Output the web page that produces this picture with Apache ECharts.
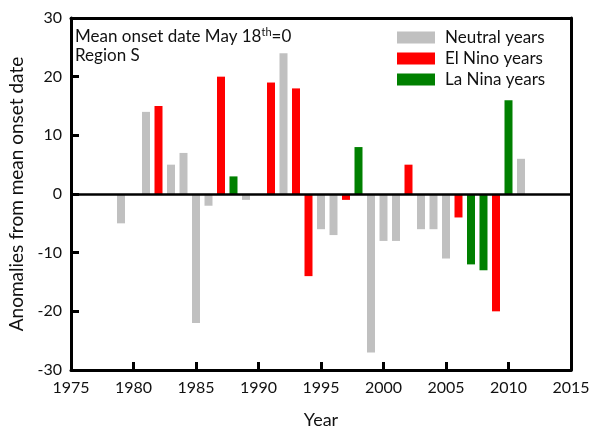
<!DOCTYPE html>
<html>
<head>
<meta charset="utf-8">
<script src="https://cdn.jsdelivr.net/npm/echarts@6/dist/echarts.min.js"></script>
<style>
  html, body { margin: 0; padding: 0; background: #fff; }
  #chart { width: 589px; height: 427px; }
</style>
</head>
<body>
<div id="chart"></div>
<script>
// Onset-date anomalies (days relative to the May 18 mean), grouped by ENSO phase
const neutralYears  = [1979, 1981, 1983, 1984, 1985, 1986, 1989, 1992, 1995, 1996, 1999, 2000, 2001, 2003, 2004, 2005, 2011];
const neutralValues = [  -5,   14,    5,    7,  -22,   -2,   -1,   24,   -6,   -7,  -27,   -8,   -8,   -6,   -6,  -11,    6];

const elNinoYears  = [1982, 1987, 1991, 1993, 1994, 1997, 2002, 2006, 2009];
const elNinoValues = [  15,   20,   19,   18,  -14,   -1,    5,   -4,  -20];

const laNinaYears  = [1988, 1998, 2007, 2008, 2010];
const laNinaValues = [   3,    8,  -12,  -13,   16];

const seriesNames = ['Neutral years', 'El Nino years', 'La Nina years'];
const seriesColors = ['#c0c0c0', '#ff0000', '#008000'];

const FONT = 'Lato';
const INK = '#111';

function pairs(xs, ys) { return xs.map((x, i) => [x, ys[i]]); }

const groups = [
  pairs(neutralYears, neutralValues),
  pairs(elNinoYears, elNinoValues),
  pairs(laNinaYears, laNinaValues)
];

const chart = echarts.init(document.getElementById('chart'), null, { renderer: 'canvas' });

const series = groups.map((data, i) => ({
  name: seriesNames[i],
  type: 'bar',
  data: data,
  barWidth: 8,
  barGap: '-100%',
  itemStyle: { color: seriesColors[i] },
  z: 2
}));

// zero reference line across the plot
series[0].markLine = {
  silent: true,
  symbol: ['none', 'none'],
  label: { show: false },
  lineStyle: { color: '#000', width: 2.5, type: 'solid' },
  data: [{ yAxis: 0 }],
  z: 5
};

// plain frame edges (top and right) drawn as extra axes
const frameLine = { show: true, onZero: false, lineStyle: { color: '#000', width: 3 } };

chart.setOption({
  animation: false,
  backgroundColor: '#fff',
  grid: { left: 71, right: 18, top: 18, bottom: 57, show: false, containLabel: false, outerBoundsMode: 'none' },
  legend: {
    orient: 'vertical',
    left: 397, top: 29,
    padding: 0,
    itemWidth: 38, itemHeight: 12, itemGap: 4,
    icon: 'rect',
    textStyle: { fontFamily: FONT, fontSize: 17, color: INK, lineHeight: 17, padding: [0, 0, 0, 5] },
    data: seriesNames
  },
  graphic: [{
    type: 'text',
    left: 75, top: 27,
    style: {
      text: '{a|Mean onset date May 18}{s|th}{a|=0}\n{a|Region S}',
      rich: {
        a: { fontFamily: FONT, fontSize: 17, fill: INK, lineHeight: 19 },
        s: { fontFamily: FONT, fontSize: 11, fill: INK, verticalAlign: 'top', lineHeight: 19, padding: [0, 0, 12, 0] }
      }
    }
  }],
  xAxis: [{
    type: 'value',
    min: 1975, max: 2015, interval: 5,
    name: 'Year',
    nameLocation: 'middle',
    nameGap: 41,
    nameTextStyle: { fontFamily: FONT, fontSize: 18, color: INK },
    axisLine: { show: true, onZero: false, lineStyle: { color: '#000', width: 3 } },
    axisTick: { show: true, inside: true, length: 8, lineStyle: { color: '#000', width: 3 } },
    axisLabel: { fontFamily: FONT, fontSize: 16, color: INK, margin: 10, formatter: v => String(v) },
    splitLine: { show: false }
  }, {
    type: 'value', position: 'top',
    min: 1975, max: 2015,
    axisLine: frameLine, axisTick: { show: false }, axisLabel: { show: false }, splitLine: { show: false }
  }],
  yAxis: [{
    type: 'value',
    min: -30, max: 30, interval: 10,
    name: 'Anomalies from mean onset date',
    nameLocation: 'middle',
    nameGap: 40,
    nameTextStyle: { fontFamily: FONT, fontSize: 19, color: INK },
    axisLine: { show: true, onZero: false, lineStyle: { color: '#000', width: 3 } },
    axisTick: { show: true, inside: true, length: 8, lineStyle: { color: '#000', width: 3 } },
    axisLabel: { fontFamily: FONT, fontSize: 16, color: INK, margin: 9 },
    splitLine: { show: false }
  }, {
    type: 'value', position: 'right',
    min: -30, max: 30,
    axisLine: frameLine, axisTick: { show: false }, axisLabel: { show: false }, splitLine: { show: false }
  }],
  series: series
});
</script>
</body>
</html>
